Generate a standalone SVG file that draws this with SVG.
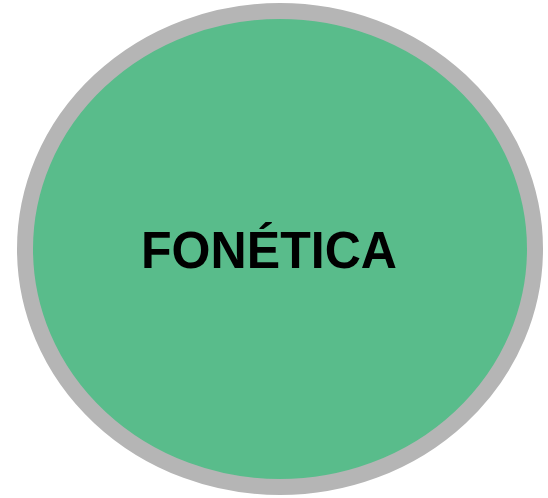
<svg xmlns="http://www.w3.org/2000/svg" width="548" height="498" viewBox="0 0 548 498">
<style>
.node-shape{fill:#59bc8b;stroke:#b5b5b5;stroke-width:16}
.label{font-family:"Liberation Sans",Arial,sans-serif;font-weight:bold;font-size:52px;fill:#000}
</style>
<rect width="548" height="498" fill="#ffffff"/>
<g id="connectors"></g>
<g id="node-fonetica">
<ellipse class="node-shape" cx="280" cy="249" rx="255" ry="238"/>
<text class="label" x="141" y="268" textLength="256" lengthAdjust="spacingAndGlyphs">FONÉTICA</text>
</g>
</svg>
